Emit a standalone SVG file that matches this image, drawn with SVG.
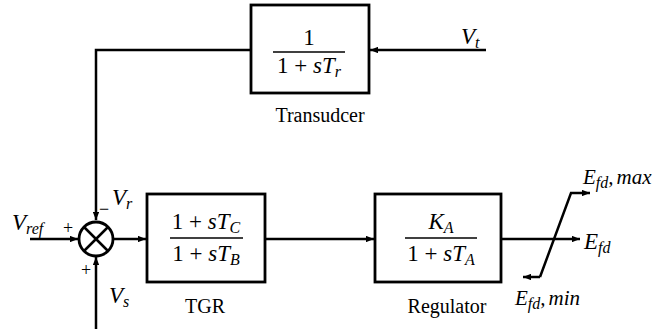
<svg xmlns="http://www.w3.org/2000/svg" width="655" height="329" viewBox="0 0 655 329">
<defs>
<marker id="ah" viewBox="0 0 10 8" refX="10" refY="4" markerWidth="8" markerHeight="6.4" markerUnits="userSpaceOnUse" orient="auto">
<path d="M0,0 L10,4 L0,8 Z" fill="#000"/>
</marker>
<style>
.box{fill:#fff;stroke:#000;stroke-width:2.8}
.ln{fill:none;stroke:#000;stroke-width:2.5}
.fr{stroke:#000;stroke-width:1.5}
.m{font-family:"Liberation Serif","DejaVu Serif",serif;font-size:23px;fill:#000}
.e{font-size:21px}
.i{font-style:italic}
.sub{font-family:"Liberation Serif","DejaVu Serif",serif;font-style:italic;font-size:16px}
.lab{font-family:"Liberation Serif","DejaVu Serif",serif;font-size:20px;fill:#000}
.sg{font-family:"Liberation Serif","DejaVu Serif",serif;font-size:18px;fill:#000}
</style>
</defs>
<g id="connectors">
<path class="ln" d="M486,50 H370" marker-end="url(#ah)"/>
<path class="ln" d="M251,50 H96 V220" marker-end="url(#ah)"/>
<path class="ln" d="M30,239 H78" marker-end="url(#ah)"/>
<path class="ln" d="M96,329 V257" marker-end="url(#ah)"/>
<path class="ln" d="M114,239 H146" marker-end="url(#ah)"/>
<path class="ln" d="M265,239 H374" marker-end="url(#ah)"/>
<path class="ln" d="M501,239 H580" marker-end="url(#ah)"/>
<path class="ln" d="M540,277 H523" marker-end="url(#ah)"/>
<path class="ln" d="M540,277 L571,193 H590" marker-end="url(#ah)"/>
</g>
<g id="sum">
<circle cx="96" cy="239" r="17" fill="#fff" stroke="#000" stroke-width="2.8"/>
<path class="ln" d="M84,227 L108,251 M108,227 L84,251"/>
<text class="sg" x="63" y="234">+</text>
<text class="sg" x="81" y="276">+</text>
<text class="sg" x="99" y="215">−</text>
</g>
<g id="transducer">
<rect class="box" x="251" y="5" width="118" height="88"/>
<text class="m" x="309" y="45" text-anchor="middle">1</text>
<line class="fr" x1="273" y1="52" x2="345" y2="52"/>
<text class="m" x="309" y="73" text-anchor="middle">1 + <tspan class="i">sT</tspan><tspan class="sub" dy="4">r</tspan></text>
<text class="lab" x="320" y="122" text-anchor="middle">Transudcer</text>
</g>
<g id="tgr">
<rect class="box" x="147" y="194" width="118" height="88"/>
<text class="m" x="206" y="229" text-anchor="middle">1 + <tspan class="i">sT</tspan><tspan class="sub" dy="4">C</tspan></text>
<line class="fr" x1="170" y1="238" x2="243" y2="238"/>
<text class="m" x="206" y="261" text-anchor="middle">1 + <tspan class="i">sT</tspan><tspan class="sub" dy="4">B</tspan></text>
<text class="lab" x="205" y="313" text-anchor="middle">TGR</text>
</g>
<g id="regulator">
<rect class="box" x="375" y="194" width="126" height="88"/>
<text class="m" x="441" y="229" text-anchor="middle"><tspan class="i">K</tspan><tspan class="sub" dy="4">A</tspan></text>
<line class="fr" x1="405" y1="238" x2="477" y2="238"/>
<text class="m" x="441" y="261" text-anchor="middle">1 + <tspan class="i">sT</tspan><tspan class="sub" dy="4">A</tspan></text>
<text class="lab" x="447" y="313" text-anchor="middle">Regulator</text>
</g>
<g id="labels">
<text class="m i" x="12" y="230">V<tspan class="sub" dy="4">ref</tspan></text>
<text class="m i" x="112" y="205">V<tspan class="sub" dy="4">r</tspan></text>
<text class="m i" x="109" y="303">V<tspan class="sub" dy="4">s</tspan></text>
<text class="m i" x="461" y="44">V<tspan class="sub" dy="4">t</tspan></text>
<text class="m i" x="584" y="249">E<tspan class="sub" dy="4">fd</tspan></text>
<text class="m i e" x="583" y="184">E<tspan class="sub" dy="4">fd</tspan><tspan dy="-4">,</tspan><tspan dx="3">max</tspan></text>
<text class="m i e" x="515" y="305">E<tspan class="sub" dy="4">fd</tspan><tspan dy="-4">,</tspan><tspan dx="3">min</tspan></text>
</g>
</svg>
